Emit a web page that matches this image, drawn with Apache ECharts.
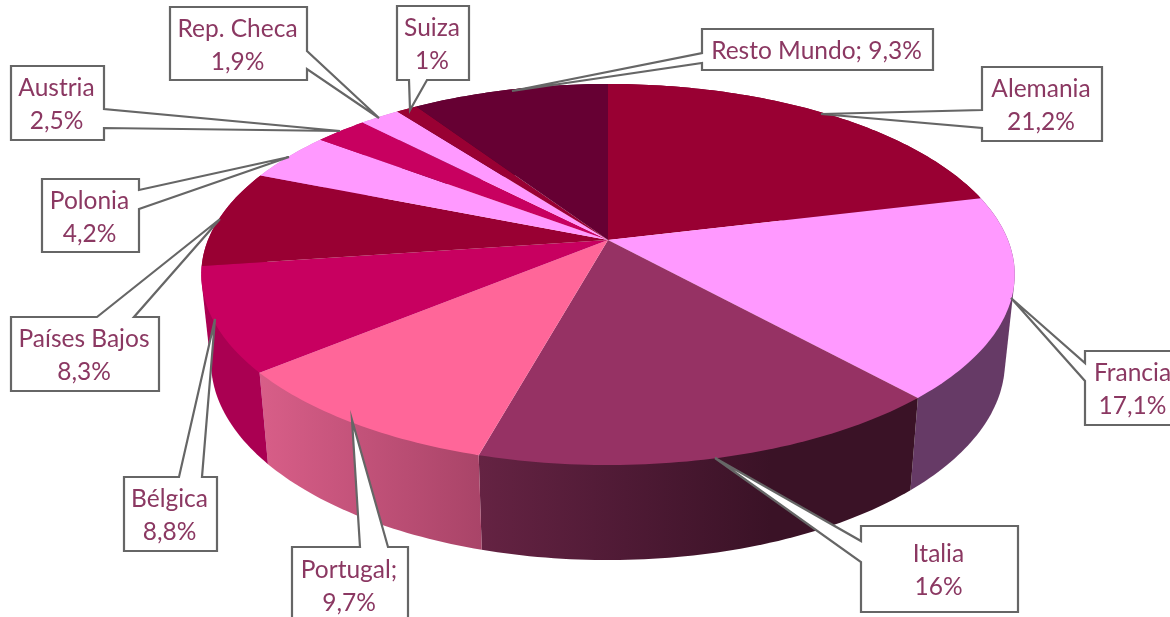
<!DOCTYPE html>
<html>
<head>
<meta charset="utf-8">
<title>Exportaciones por país</title>
<style>
  html, body { margin: 0; padding: 0; background: #fff; }
  #chart { width: 1170px; height: 617px; }
</style>
<script src="https://cdn.jsdelivr.net/npm/echarts@6/dist/echarts.min.js"></script>
</head>
<body>
<div id="chart"></div>
<script>
// data, clockwise from 12 o'clock
const countries = ['Alemania', 'Francia', 'Italia', 'Portugal', 'Bélgica', 'Países Bajos', 'Polonia', 'Austria', 'Rep. Checa', 'Suiza', 'Resto Mundo']
const shares = [21.2, 17.1, 16, 9.7, 8.8, 8.3, 4.2, 2.5, 1.9, 1, 9.3]
const separators = ['\n', '\n', '\n', ';\n', '\n', '\n', '\n', '\n', '\n', '\n', '; ']

const topColors = ['#990033', '#FF99FF', '#963264', '#FF6699', '#C80060', '#990033', '#FF99FF', '#C80060', '#FF99FF', '#990033', '#660033']
const sideColors = [
  ['#7a0029', '#7a0029'],
  ['#663a66', '#663a66'],
  ['#652343', '#4f1a35', '#3a1226', '#3a1226'],
  ['#d85e88', '#a94468'],
  ['#aa0052', '#aa0052'],
  ['#aa0052', '#aa0052'],
  ['#cc7acc', '#cc7acc'],
  ['#aa0052', '#aa0052'],
  ['#cc7acc', '#cc7acc'],
  ['#7a0029', '#7a0029'],
  ['#520029', '#520029']
]

// callout boxes: [x0, y0, x1, y1], which edge the tail leaves from, tail base, tail tip
const callouts = [
  { box: [982, 67, 1102, 141], edge: 'left', base: [110, 128], tip: [821, 114] },
  { box: [1085, 351, 1182, 425], edge: 'left', base: [363, 381], tip: [1011, 298] },
  { box: [861, 526, 1018, 612], edge: 'left', base: [541, 562], tip: [715, 458] },
  { box: [292, 547, 408, 623], edge: 'top', base: [360, 388], tip: [352, 420] },
  { box: [124, 477, 217, 551], edge: 'top', base: [179, 202], tip: [215, 319] },
  { box: [11, 317, 159, 391], edge: 'top', base: [97, 134], tip: [220, 219] },
  { box: [42, 179, 139, 252], edge: 'right', base: [190, 209], tip: [289, 157] },
  { box: [11, 66, 104, 140], edge: 'right', base: [109, 128], tip: [340, 131] },
  { box: [170, 7, 307, 80], edge: 'right', base: [51, 69], tip: [379, 118] },
  { box: [397, 6, 469, 80], edge: 'bottom', base: [409, 427], tip: [410, 110] },
  { box: [702, 29, 933, 70], edge: 'left', base: [53, 63], tip: [512, 91] }
]

// the disc is a circle seen in perspective, k is the strength of it
const k = 0.181
const cx = 608
const topFace = { rx: 400, ry: 184.3, cy: 240 }
const bottomFace = { rx: 390.4, ry: 191.7, cy: 326 }

function project(face, deg) {
  const a = deg * Math.PI / 180
  const x = Math.sin(a)
  const y = -Math.cos(a)
  const d = 1 - k * y
  return [cx + face.rx * x / d, face.cy + face.ry * y / d]
}

function arc(face, from, to) {
  const n = Math.max(2, Math.ceil(Math.abs(to - from)))
  const pts = []
  for (let i = 0; i <= n; i++) pts.push(project(face, from + (to - from) * i / n))
  return pts
}

// the wall of a slice is swept from top rim to bottom rim, so it fills the hull of both
function hull(points) {
  const p = points.slice().sort((a, b) => a[0] - b[0] || a[1] - b[1])
  const cross = (o, a, b) => (a[0] - o[0]) * (b[1] - o[1]) - (a[1] - o[1]) * (b[0] - o[0])
  const half = list => {
    const out = []
    list.forEach(q => {
      while (out.length > 1 && cross(out[out.length - 2], out[out.length - 1], q) <= 0) out.pop()
      out.push(q)
    })
    out.pop()
    return out
  }
  return half(p).concat(half(p.slice().reverse()))
}

let sum = 0
const sliceData = shares.map((v, i) => {
  const start = sum
  sum += v
  return [start * 3.6, sum * 3.6, i]
})

function renderSide(params, api) {
  const from = api.value(0)
  const to = api.value(1)
  const c = sideColors[api.value(2)]
  const points = hull(arc(topFace, from, to).concat(arc(bottomFace, from, to)))
  return {
    type: 'polygon',
    shape: { points },
    style: {
      fill: new echarts.graphic.LinearGradient(0, 0, 1, 0,
        c.map((color, n) => ({ offset: n / (c.length - 1), color })))
    }
  }
}

function renderTop(params, api) {
  const points = [[cx, topFace.cy]].concat(arc(topFace, api.value(0), api.value(1)))
  return {
    type: 'polygon',
    shape: { points },
    style: { fill: topColors[api.value(2)] }
  }
}

function calloutPath(c) {
  const [x0, y0, x1, y1] = c.box
  const [a, b] = c.base
  if (c.edge === 'left') return [[x0, y0], [x1, y0], [x1, y1], [x0, y1], [x0, b], c.tip, [x0, a]]
  if (c.edge === 'right') return [[x0, y0], [x1, y0], [x1, a], c.tip, [x1, b], [x1, y1], [x0, y1]]
  if (c.edge === 'top') return [[x0, y0], [a, y0], c.tip, [b, y0], [x1, y0], [x1, y1], [x0, y1]]
  return [[x0, y0], [x1, y0], [x1, y1], [b, y1], c.tip, [a, y1], [x0, y1]]
}

function renderCallout(params, api) {
  const i = api.value(0)
  const c = callouts[i]
  const label = countries[i] + separators[i] + String(shares[i]).replace('.', ',') + '%'
  return {
    type: 'group',
    children: [
      {
        type: 'polygon',
        shape: { points: calloutPath(c) },
        style: { fill: '#fff', stroke: '#666666', lineWidth: 2.2, lineJoin: 'miter' }
      },
      {
        type: 'text',
        x: (c.box[0] + c.box[2]) / 2 - 1,
        y: (c.box[1] + c.box[3]) / 2 + 2,
        style: {
          text: label,
          fill: '#8b3862',
          font: '24.5px Lato',
          align: 'center',
          verticalAlign: 'middle',
          lineHeight: 33
        }
      }
    ]
  }
}

const chart = echarts.init(document.getElementById('chart'), null, { renderer: 'canvas' })
chart.setOption({
  animation: false,
  backgroundColor: '#fff',
  series: [
    { type: 'custom', coordinateSystem: 'none', silent: true, clip: false, renderItem: renderSide, data: sliceData },
    { type: 'custom', coordinateSystem: 'none', silent: true, clip: false, renderItem: renderTop, data: sliceData },
    { type: 'custom', coordinateSystem: 'none', silent: true, clip: false, renderItem: renderCallout, data: countries.map((n, i) => [i]) }
  ]
})
</script>
</body>
</html>
